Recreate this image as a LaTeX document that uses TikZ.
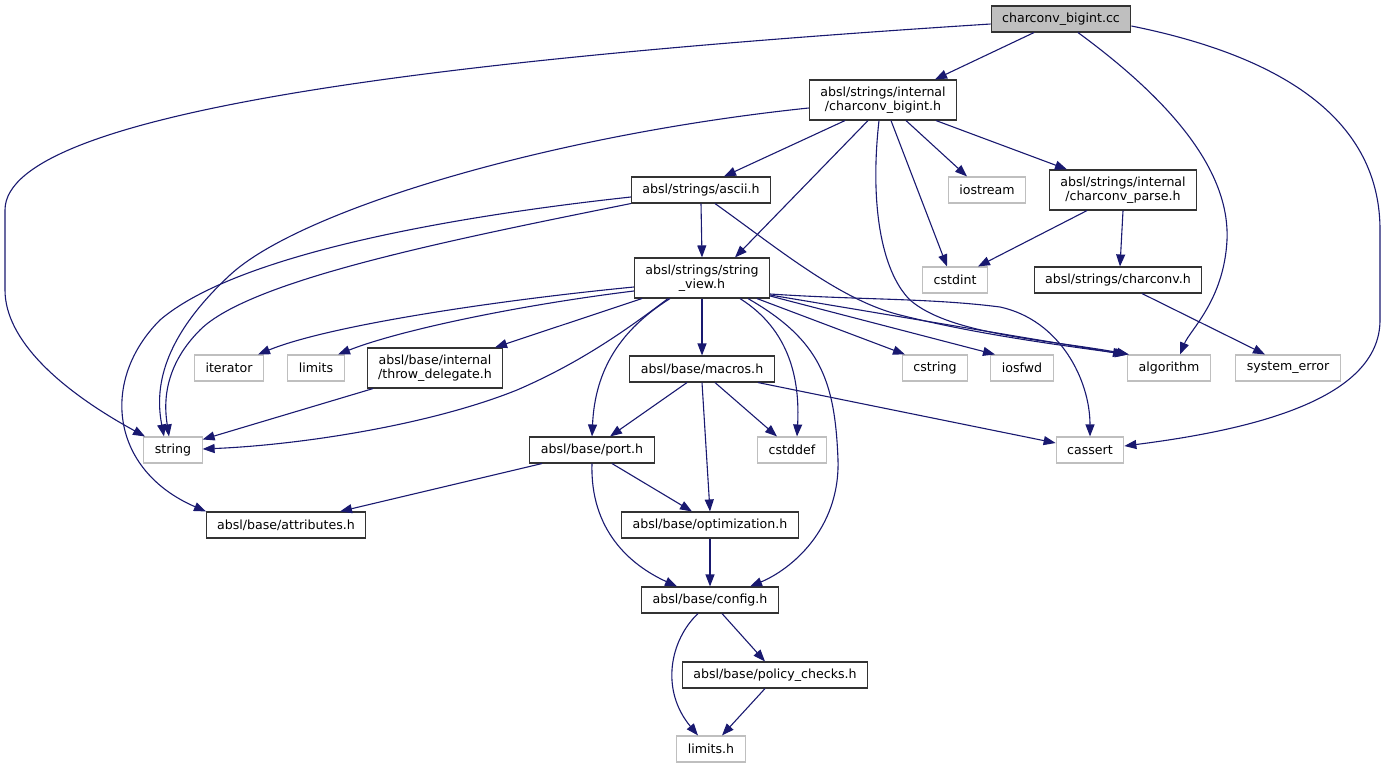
\documentclass[tikz,border=0pt]{standalone}
\usepackage{fontspec}
\setmainfont{DejaVu Sans}
\usetikzlibrary{arrows.meta}
\definecolor{edgeblue}{HTML}{191970}
\definecolor{boxgray}{HTML}{BFBFBF}
\tikzset{hdr/.style = {draw = black!80, line width = 1.1pt, fill = white, align = center,
                       inner xsep = 11pt, inner ysep = 6.5pt, minimum height = 26pt,
                       font = \fontsize{12.6}{14.5}\selectfont}}
\tikzset{sys/.style = {hdr, draw = boxgray}}
\tikzset{root/.style = {hdr, fill = boxgray}}
\tikzset{dep/.style = {draw = edgeblue, line width = 1.1pt,
                       -{Triangle[length = 12pt, width = 9pt]}}}

\begin{document}
\begin{tikzpicture}[x = 1pt, y = -1pt]
        \useasboundingbox (0, 0) rectangle (1386, 768);

        \node [root] (cc) at (1061, 19) {charconv\_bigint.cc};
        \node [hdr] (bigint) at (883, 100) {absl/strings/internal\\/charconv\_bigint.h};
        \node [hdr] (ascii) at (701, 190) {absl/strings/ascii.h};
        \node [sys] (iostream) at (987, 190) {iostream};
        \node [hdr] (parse) at (1123, 190) {absl/strings/internal\\/charconv\_parse.h};
        \node [hdr] (sview) at (702, 278) {absl/strings/string\\\_view.h};
        \node [sys] (cstdint) at (955, 280) {cstdint};
        \node [hdr] (charconv) at (1118, 280) {absl/strings/charconv.h};
        \node [sys] (iterator) at (229, 368) {iterator};
        \node [sys] (limits) at (316, 368) {limits};
        \node [hdr] (throw) at (435, 368) {absl/base/internal\\/throw\_delegate.h};
        \node [hdr] (macros) at (702, 369) {absl/base/macros.h};
        \node [sys] (cstring) at (935, 368) {cstring};
        \node [sys] (iosfwd) at (1022, 368) {iosfwd};
        \node [sys] (algorithm) at (1169, 368) {algorithm};
        \node [sys] (syserr) at (1288, 368) {system\_error};
        \node [sys] (string) at (173, 450) {string};
        \node [hdr] (port) at (592, 450) {absl/base/port.h};
        \node [sys] (cstddef) at (792, 450) {cstddef};
        \node [sys] (cassert) at (1090, 450) {cassert};
        \node [hdr] (attributes) at (286, 525) {absl/base/attributes.h};
        \node [hdr] (optim) at (710, 525) {absl/base/optimization.h};
        \node [hdr] (config) at (710, 600) {absl/base/config.h};
        \node [hdr] (policy) at (775, 675) {absl/base/policy\_checks.h};
        \node [sys] (limitsh) at (711, 749) {limits.h};

        % charconv_bigint.cc
        \draw [dep] ([xshift = -27pt]cc.south) -- ([xshift = 52pt]bigint.north);
        \draw [dep] ([yshift = -5pt]cc.west) .. controls (460, 58) and (5, 110) .. (5, 210)
                -- (5, 290) .. controls (5, 340) and (60, 390) .. ([xshift = -28pt]string.north);
        \draw [dep] ([xshift = 17pt]cc.south) .. controls (1170, 100) and (1230, 170) .. (1227, 240)
                .. controls (1224, 300) and (1190, 330) .. ([xshift = 11pt]algorithm.north);
        \draw [dep] ([yshift = -7pt]cc.east) .. controls (1300, 60) and (1380, 130) .. (1380, 230)
                -- (1380, 320) .. controls (1380, 400) and (1250, 430) .. ([yshift = 4pt]cassert.east);

        % charconv_bigint.h
        \draw [dep] ([yshift = -8pt]bigint.west) .. controls (550, 135) and (300, 210) .. (230, 275)
                .. controls (160, 340) and (155, 390) .. ([xshift = -9pt]string.north);
        \draw [dep] ([xshift = -38pt]bigint.south) -- ([xshift = 23pt]ascii.north);
        \draw [dep] ([xshift = -15pt]bigint.south) -- ([xshift = 33pt]sview.north);
        \draw [dep] ([xshift = -4pt]bigint.south) .. controls (870, 200) and (880, 270) .. (910, 300)
                .. controls (950, 335) and (1050, 340) .. ([xshift = -40pt]algorithm.north);
        \draw [dep] ([xshift = 8pt]bigint.south) -- ([xshift = -8pt]cstdint.north);
        \draw [dep] ([xshift = 23pt]bigint.south) -- ([xshift = -20pt]iostream.north);
        \draw [dep] ([xshift = 53pt]bigint.south) -- ([xshift = -56pt]parse.north);

        % ascii.h
        \draw [dep] (ascii.south) -- (sview.north);
        \draw [dep] (ascii.south west) .. controls (450, 240) and (250, 280) .. (200, 330)
                .. controls (160, 370) and (165, 410) .. ([xshift = -4pt]string.north);
        \draw [dep] ([yshift = -7pt]ascii.west) .. controls (420, 220) and (230, 260) .. (160, 320)
                .. controls (100, 380) and (110, 470) .. ([xshift = -80pt]attributes.north);
        \draw [dep] ([xshift = 14pt]ascii.south) .. controls (780, 250) and (840, 300) .. (900, 315)
                .. controls (980, 335) and (1060, 345) .. ([xshift = -42pt]algorithm.north);

        % string_view.h
        \draw [dep] ([yshift = -9pt]sview.west) .. controls (500, 300) and (330, 325) .. ([xshift = 29pt]iterator.north);
        \draw [dep] ([yshift = -13pt]sview.west) .. controls (520, 305) and (400, 330) .. ([xshift = 22pt]limits.north);
        \draw [dep] ([xshift = -60pt]sview.south) -- ([xshift = 60pt]throw.north);
        \draw [dep] ([xshift = -34pt]sview.south) .. controls (620, 335) and (575, 365) .. (517, 390)
                .. controls (430, 425) and (300, 445) .. ([yshift = 1pt]string.east);
        \draw [dep] ([xshift = -32pt]sview.south) .. controls (620, 330) and (595, 370) .. (port.north);
        \draw [dep] (sview.south) -- (macros.north);
        \draw [dep] ([xshift = 38pt]sview.south) .. controls (790, 330) and (800, 380) .. ([xshift = 5pt]cstddef.north);
        \draw [dep] ([xshift = 46pt]sview.south) .. controls (820, 340) and (835, 380) .. (838, 460)
                .. controls (840, 530) and (790, 570) .. ([xshift = 40pt]config.north);
        \draw [dep] ([xshift = 55pt]sview.south) -- ([xshift = -30pt]cstring.north);
        \draw [dep] ([yshift = -18pt]sview.east) -- ([xshift = -27pt]iosfwd.north);
        \draw [dep] ([yshift = -17pt]sview.east) -- ([xshift = -44pt]algorithm.north);
        \draw [dep] ([yshift = -16pt]sview.east) .. controls (860, 300) and (930, 298) .. (1000, 307)
                .. controls (1060, 320) and (1090, 380) .. (cassert.north);

        % charconv_parse.h, charconv.h
        \draw [dep] ([xshift = -36pt]parse.south) -- ([xshift = 23pt]cstdint.north);
        \draw [dep] (parse.south) -- ([xshift = 2pt]charconv.north);
        \draw [dep] ([xshift = 24pt]charconv.south) -- ([xshift = -23pt]syserr.north);

        % throw_delegate.h, macros.h
        \draw [dep] ([xshift = -62pt]throw.south) -- ([yshift = -3pt]string.north east);
        \draw [dep] ([xshift = -15pt]macros.south) -- ([xshift = 18pt]port.north);
        \draw [dep] (macros.south) -- (optim.north);
        \draw [dep] ([xshift = 13pt]macros.south) -- ([xshift = -15pt]cstddef.north);
        \draw [dep] ([xshift = 56pt]macros.south) -- ([yshift = 7pt]cassert.west);

        % port.h, optimization.h, config.h
        \draw [dep] ([xshift = -50pt]port.south) -- ([xshift = 54pt]attributes.north);
        \draw [dep] ([xshift = 20pt]port.south) -- ([xshift = -18pt]optim.north);
        \draw [dep] (port.south) .. controls (590, 530) and (630, 565) .. ([xshift = -33pt]config.north);
        \draw [dep] (optim.south) -- (config.north);
        \draw [dep] ([xshift = 12pt]config.south) -- ([xshift = -10pt]policy.north);
        \draw [dep] ([xshift = -12pt]config.south) .. controls (670, 640) and (660, 690) .. ([xshift = -13pt]limitsh.north);
        \draw [dep] ([xshift = -10pt]policy.south) -- ([xshift = 11pt]limitsh.north);
      \end{tikzpicture}
\end{document}
